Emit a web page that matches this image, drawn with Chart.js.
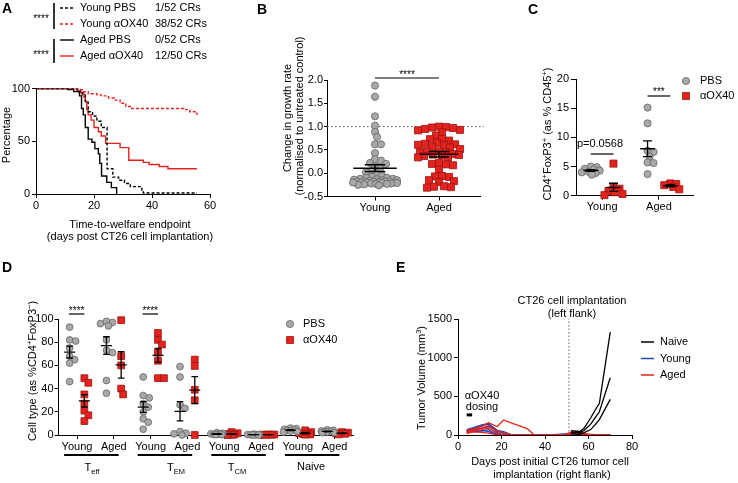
<!DOCTYPE html>
<html><head><meta charset="utf-8">
<script src="https://cdn.jsdelivr.net/npm/chart.js@4.4.1/dist/chart.umd.min.js"></script>
<style>
html,body{margin:0;padding:0;background:#fff;}
#fig{position:relative;width:738px;height:483px;overflow:hidden;background:#fff;}
#fig canvas{position:absolute;left:0;top:0;}
</style></head><body>
<div id="fig">
<canvas id="cA" width="738" height="483"></canvas>
<canvas id="cB" width="738" height="483"></canvas>
<canvas id="cC" width="738" height="483"></canvas>
<canvas id="cD" width="738" height="483"></canvas>
<canvas id="cE" width="738" height="483"></canvas>
</div>
<script>
// ---------------- Panel A data (Kaplan-Meier) ----------------
const aDaysYoungPBS  = [0,14.5,16,17,18,19.5,21,22.5,24.5,26.5,28.5,30.5,32.5,36.5,37,55.5];
const aPctYoungPBS   = [100,97,94,87,78,74,69,63,24,16,13,10,7,3,1,1];
const aDaysYoungOX40 = [0,14,16,18,21,22.5,25,27,29,31,33,51,53,55.5];
const aPctYoungOX40  = [100,99,97,95,94,93,91,89,86,83,81,80,78,75];
const aDaysAgedPBS   = [0,11,13,15,15.7,16.3,17,18,19.3,20.3,21.5,22,22.6,24.4,26,27.8];
const aPctAgedPBS    = [100,99,97,93,81,75,63,52,49,43,38,29,17,11,6,0];
const aDaysAgedOX40  = [0,14,15.5,16.5,17,17.5,18,19,20,21.5,22.5,24,29,32,37,39,42.5,45.5,55.5];
const aPctAgedOX40   = [100,98,96,92,88,80,75,70,63,59,55,48,44,32,30,28,26,24,24];
const aGroups    = ['Young PBS','Young αOX40','Aged PBS','Aged αOX40'];
const aResponses = ['1/52 CRs','38/52 CRs','0/52 CRs','12/50 CRs'];
const aXTicks = [0,20,40,60];
const aYTicks = [0,50,100];

// ---------------- Panel B data ----------------
const bCategories = ['Young','Aged'];
const bYoung = [1.88,1.64,1.22,1.02,0.89,0.78,0.62,0.62,0.43,0.30,0.27,0.22,0.20,0.15,0.10,0.05,0.02,0.00,
  -0.05,-0.08,-0.10,-0.10,-0.12,-0.12,-0.13,-0.14,-0.15,-0.15,-0.16,-0.17,-0.17,-0.18,-0.18,-0.18,-0.19,
  -0.20,-0.20,-0.20,-0.21,-0.21,-0.22,-0.22,-0.23,-0.23,-0.24,-0.25,-0.26,-0.20];
const bAged = [1.00,0.99,0.98,0.97,0.95,0.93,0.92,0.88,0.81,0.74,0.73,0.70,0.65,0.63,0.62,0.61,0.60,0.56,0.55,
  0.52,0.47,0.46,0.45,0.44,0.41,0.40,0.39,0.38,0.37,0.34,0.33,0.22,0.20,0.19,0.17,0.07,-0.06,-0.07,-0.08,
  -0.15,-0.17,-0.19,-0.28,-0.29,-0.30,-0.31];
const bYTicks = [-0.5,0,0.5,1,1.5,2];

// ---------------- Panel C data ----------------
const cCategories = ['Young','Aged'];
const cYoungPBS  = [5.0,4.9,4.6,4.5,4.3,4.1,4.0,3.9,3.6];
const cYoungOX40 = [5.5,1.5,1.2,0.8,0.6,0.3,0.1];
const cAgedPBS   = [15.1,12.4,7.7,7.5,6.7,5.7,5.6,3.7];
const cAgedOX40  = [2.1,2.0,1.8,1.5,1.1];
const cYTicks = [0,5,10,15,20];

// ---------------- Panel D data ----------------
const dCategories = ['Young','Aged','Young','Aged','Young','Aged','Young','Aged'];
const dGroupNames = ['eff','EM','CM','Naive'];
const teffYoungPBS  = [93,82,81,75,68,65,62,46];
const teffYoungOX40 = [49,45,35,27,21,17,12];
const teffAgedPBS   = [98,97,96,94,82,73,71,47,36];
const teffAgedOX40  = [99,68,60,40,35];
const temYoungPBS   = [50,34,32,27,24,20,14,11,5];
const temYoungOX40  = [88,82,78,71,64,49,49];
const temAgedPBS    = [59,50,26,23,3,1.5,1,0];
const temAgedOX40   = [65,59.5,39,30,0];
const tcmYoungPBS   = [2,1.5,1,1,0.5,0.5,0.3,0.2];
const tcmYoungOX40  = [2.5,1.5,0.8,0.5,0.3,0.2,0.1];
const tcmAgedPBS    = [0.8,0.5,0.4,0.3,0.2,0.1,0.1,0];
const tcmAgedOX40   = [0.5,0.4,0.3,0.2,0.1];
const naiveYoungPBS = [6,5.5,5,4.5,4,3.5,3,2.5];
const naiveYoungOX40= [4,2.5,1.5,1,0.8,0.5,0.3];
const naiveAgedPBS  = [4.5,4,3.5,3,3,2.5,2,2];
const naiveAgedOX40 = [2.5,2,1.5,1,0.5];
const dYTicks = [0,20,40,60,80,100];

// ---------------- Panel E data ----------------
const eTreatDays = [4,7,11,14,18,21,25,28,32,35,42,49,52,56,60,65,70];
const eYoung1 = [70,95,130,150,60,45,0,0,0,0,0,15,20,0,0,0,0];
const eYoung2 = [50,80,120,140,30,0,0,0,0,0,0,0,0,0,0,0,0];
const eYoung3 = [40,60,90,110,50,20,0,0,0,0,0,0,0,0,0,0,0];
const eYoung4 = [30,45,50,70,0,0,0,0,0,0,0,0,0,0,0,0,0];
const eYoung5 = [60,70,60,45,10,0,0,0,0,0,0,0,0,0,0,0,0];
const eAged1  = [60,80,110,160,110,195,150,120,80,0,0,0,30,20,0,0,0];
const eAged2  = [50,75,90,120,50,30,0,0,0,0,0,0,40,35,10,0,0];
const eAged3  = [35,55,70,90,20,0,0,0,0,0,0,0,0,0,0,0,0];
const eAged4  = [20,40,35,25,0,0,0,0,0,0,0,0,0,0,0,0,0];
const eNaiveDays = [52,56,58,61,63,65,70];
const eNaive1 = [55,45,90,220,320,410,1330];
const eNaive2 = [35,30,60,140,220,300,740];
const eNaive3 = [15,10,30,70,130,200,460];
const eRechallengeDay = 51;
const eDosingDays = [4,6.5];
const eDosingLevel = 260;
const eXTicks = [0,20,40,60,80];
const eYTicks = [0,500,1000,1500];

// ---------------- helpers ----------------
const FONT = '"Liberation Sans", Arial, Helvetica, sans-serif';
Chart.defaults.font.family = FONT;
Chart.defaults.font.size = 11;
Chart.defaults.color = '#000';
const RED = '#e3231d', RED_D = '#9c1410', GREY = '#a8a8a8', GREY_D = '#666666', BLUE = '#2445b5';
const CW = 738, CH = 483;

const mean = a => a.reduce((s,v)=>s+v,0)/a.length;
const sem = a => { const m = mean(a); return Math.sqrt(a.reduce((s,v)=>s+(v-m)*(v-m),0)/(a.length-1))/Math.sqrt(a.length); };

function T(c, s, x, y, o = {}) {
  c.save();
  c.font = (o.bold ? 'bold ' : '') + (o.size || 11) + 'px ' + FONT;
  c.fillStyle = o.color || '#000';
  c.textAlign = o.align || 'center';
  c.textBaseline = o.base || 'middle';
  c.translate(x, y);
  if (o.rot) c.rotate(o.rot);
  c.fillText(s, 0, 0);
  c.restore();
}
function R(c, segs, x, y, o = {}) {
  const size = o.size || 11;
  c.save(); c.translate(x, y); if (o.rot) c.rotate(o.rot);
  c.fillStyle = '#000'; c.textBaseline = 'alphabetic'; c.textAlign = 'left';
  const fs = m => m ? size * 0.68 : size;
  let w = 0;
  segs.forEach(([t, m]) => { c.font = fs(m) + 'px ' + FONT; w += c.measureText(t).width; });
  let cx = o.align === 'left' ? 0 : -w / 2;
  const base = size * 0.36;
  segs.forEach(([t, m]) => {
    c.font = fs(m) + 'px ' + FONT;
    const dy = m === 1 ? -size * 0.4 : (m === -1 ? size * 0.28 : 0);
    c.fillText(t, cx, base + dy);
    cx += c.measureText(t).width;
  });
  c.restore();
}
function L(c, x1, y1, x2, y2, w, col, dash) {
  c.save(); c.strokeStyle = col || '#000'; c.lineWidth = w || 1; c.setLineDash(dash || []);
  c.beginPath(); c.moveTo(x1, y1); c.lineTo(x2, y2); c.stroke(); c.restore();
}
function stars(c, s, x, yc) { T(c, s, x, yc + 5.5, {size: 10, base: 'alphabetic'}); }
function letter(c, s, x, yTop) { T(c, s, x, yTop + 10, {bold: true, size: 14, align: 'left', base: 'alphabetic'}); }
function marker(c, kind, x, y) {
  c.save(); c.lineWidth = 0.8;
  if (kind === 'circle') { c.fillStyle = GREY; c.strokeStyle = GREY_D; c.beginPath(); c.arc(x, y, 3.6, 0, Math.PI * 2); c.fill(); c.stroke(); }
  else { c.fillStyle = RED; c.strokeStyle = RED_D; c.beginPath(); c.rect(x - 3.5, y - 3.5, 7, 7); c.fill(); c.stroke(); }
  c.restore();
}

function axisCfg(o, horizontal) {
  return {
    type: 'linear', position: horizontal ? 'bottom' : 'left', min: o.min, max: o.max,
    afterFit(s) { if (horizontal) s.height = o.size; else s.width = o.size; },
    afterBuildTicks(s) { s.ticks = o.ticks.map(v => ({value: v})); },
    ticks: { font: {family: FONT, size: 11}, color: '#000', padding: o.pad ?? 2, autoSkip: false,
             maxRotation: 0, minRotation: 0, callback: o.fmt || (v => String(v)) },
    grid: { display: true, drawOnChartArea: false, drawTicks: true, tickLength: o.tl ?? 4, color: '#000', lineWidth: 1 },
    border: { display: true, color: '#000', width: 1 }
  };
}
function baseOptions(area, xo, yo) {
  return {
    responsive: false, animation: false, events: [],
    layout: { padding: { left: area.x0 - yo.size, top: area.y0, right: CW - area.x1, bottom: CH - area.y1 - xo.size } },
    plugins: { legend: {display: false}, tooltip: {enabled: false} },
    scales: { x: axisCfg(xo, true), y: axisCfg(yo, false) }
  };
}
function pointsDS(vals, xc, kind, r) {
  const sq = kind === 'rect';
  return { data: vals.map(v => ({x: xc, y: v})), pointStyle: kind, pointRadius: r || (sq ? 5 : 3.6),
    backgroundColor: sq ? RED : GREY, borderColor: sq ? RED_D : GREY_D, borderWidth: 0.8,
    showLine: false, clip: false, order: 1 };
}
function semDS(vals, xc, hw, cw, lw) {
  const m = mean(vals), s = sem(vals);
  return { data: [
      {x: xc - hw, y: m}, {x: xc + hw, y: m}, {x: xc, y: null},
      {x: xc, y: m - s}, {x: xc, y: m + s}, {x: xc, y: null},
      {x: xc - cw, y: m + s}, {x: xc + cw, y: m + s}, {x: xc, y: null},
      {x: xc - cw, y: m - s}, {x: xc + cw, y: m - s}],
    showLine: true, spanGaps: false, borderColor: '#000', borderWidth: lw || 1.4, pointRadius: 0, clip: false, order: 0 };
}
function swarm(chart, vals, xc, minSep, maxHalf) {
  const xs = chart.scales.x, ys = chart.scales.y;
  const cx = xs.getPixelForValue(xc);
  const pts = vals.map(v => ({v, py: ys.getPixelForValue(v), off: 0}));
  const order = pts.map((p, i) => i).sort((a, b) => pts[a].py - pts[b].py);
  const placed = [];
  order.forEach(i => {
    const p = pts[i];
    let best = 0, bestD = -1;
    for (let k = 0; k <= 2 * maxHalf; k++) {
      const off = (k % 2 ? 1 : -1) * Math.ceil(k / 2);
      let dmin = Infinity;
      for (const q of placed) { const d = Math.hypot(q.off - off, q.py - p.py); if (d < dmin) dmin = d; }
      if (dmin >= minSep) { best = off; bestD = dmin; break; }
      if (dmin > bestD) { bestD = dmin; best = off; }
    }
    p.off = best; placed.push(p);
  });
  return pts.map(p => ({x: xs.getValueForPixel(cx + p.off), y: p.v}));
}

// ---------------- Panel A ----------------
const kmSeries = [
  {t: aDaysYoungPBS,  s: aPctYoungPBS,  col: '#000', dash: [3, 2]},
  {t: aDaysYoungOX40, s: aPctYoungOX40, col: RED,    dash: [3, 2]},
  {t: aDaysAgedPBS,   s: aPctAgedPBS,   col: '#000', dash: []},
  {t: aDaysAgedOX40,  s: aPctAgedOX40,  col: RED,    dash: []}
];
const optA = baseOptions({x0: 36, y0: 88.5, x1: 210, y1: 194},
  {min: 0, max: 60, ticks: aXTicks, size: 22, tl: 4, pad: 1},
  {min: 0, max: 100, ticks: aYTicks, size: 30, tl: 4, pad: 2});
new Chart(document.getElementById('cA'), {
  type: 'line',
  data: { datasets: kmSeries.map(k => ({ data: k.t.map((t, i) => ({x: t, y: k.s[i]})), borderColor: k.col,
    borderDash: k.dash, borderWidth: 1.4, stepped: true, pointRadius: 0, fill: false })) },
  options: optA,
  plugins: [{ id: 'annA', afterDraw(ch) {
    const c = ch.ctx;
    letter(c, 'A', 2, 3.3);
    const rows = [8, 24, 40, 56];
    rows.forEach((y, i) => {
      L(c, 60, y, 74, y, 1.4, kmSeries[i].col, kmSeries[i].dash);
      T(c, aGroups[i], 80, y, {align: 'left'});
      T(c, aResponses[i], 155, y, {align: 'left'});
    });
    L(c, 54, 3, 54, 29, 1.6); L(c, 54, 39, 54, 63, 1.6);
    stars(c, '****', 41, 16); stars(c, '****', 41, 52);
    T(c, 'Percentage', 7, 135, {rot: -Math.PI / 2});
    T(c, 'Time-to-welfare endpoint', 130, 225);
    T(c, '(days post CT26 cell implantation)', 130, 237);
  }}]
});

// ---------------- Panel B ----------------
const optB = baseOptions({x0: 327, y0: 80, x1: 480.6, y1: 196.5},
  {min: 0.25, max: 2.65, ticks: [1, 2], size: 22, tl: 4, pad: 1, fmt: v => bCategories[Math.round(v) - 1]},
  {min: -0.5, max: 2, ticks: bYTicks, size: 30, tl: 3, pad: 1, fmt: v => v.toFixed(1)});
const chartB = new Chart(document.getElementById('cB'), {
  type: 'scatter',
  data: { datasets: [
    pointsDS(bYoung, 1, 'circle'),
    pointsDS(bAged, 2, 'rect'),
    semDS(bYoung, 1, 0.34, 0.16, 1.5),
    semDS(bAged, 2, 0.30, 0.16, 1.5),
    { data: [{x: 0.25, y: 1}, {x: 2.7, y: 1}], showLine: true, borderColor: '#555', borderWidth: 1,
      borderDash: [1.5, 2.5], pointRadius: 0, clip: false, order: 3 }
  ]},
  options: optB,
  plugins: [{ id: 'annB', afterDraw(ch) {
    const c = ch.ctx, xs = ch.scales.x;
    letter(c, 'B', 257, 4);
    T(c, 'Change in growth rate', 288, 118, {rot: -Math.PI / 2});
    T(c, '(normalised to untreated control)', 300, 116, {rot: -Math.PI / 2});
    const y = ch.chartArea.top - 2, x1 = xs.getPixelForValue(1), x2 = xs.getPixelForValue(2);
    L(c, x1, y, x2, y, 1.2);
    stars(c, '****', (x1 + x2) / 2, y - 6);
  }}]
});
chartB.data.datasets[0].data = swarm(chartB, bYoung, 1, 5.5, 22);
chartB.data.datasets[1].data = swarm(chartB, bAged, 2, 6.5, 21);
chartB.update('none');

// ---------------- Panel C ----------------
const optC = baseOptions({x0: 576, y0: 79, x1: 693, y1: 195.7},
  {min: 0.54, max: 2.6, ticks: [1, 2], size: 22, tl: 4, pad: 1, fmt: v => cCategories[Math.round(v) - 1]},
  {min: 0, max: 20, ticks: cYTicks, size: 30, tl: 5, pad: 2});
const cSets = [[cYoungPBS, 0.8, 'circle'], [cYoungOX40, 1.2, 'rect'], [cAgedPBS, 1.8, 'circle'], [cAgedOX40, 2.2, 'rect']];
const chartC = new Chart(document.getElementById('cC'), {
  type: 'scatter',
  data: { datasets: [
    ...cSets.map(s => pointsDS(s[0], s[1], s[2])),
    ...cSets.map(s => semDS(s[0], s[1], 0.13, 0.08, 1.3))
  ]},
  options: optC,
  plugins: [{ id: 'annC', afterDraw(ch) {
    const c = ch.ctx, xs = ch.scales.x;
    letter(c, 'C', 528, 4);
    R(c, [['CD4', 0], ['+', 1], ['FoxP3', 0], ['+', 1], [' (as % CD45', 0], ['+', 1], [')', 0]], 547, 134, {rot: -Math.PI / 2});
    marker(c, 'circle', 686, 81); T(c, 'PBS', 700, 81, {align: 'left'});
    marker(c, 'rect', 686, 96); T(c, 'αOX40', 700, 96, {align: 'left'});
    L(c, xs.getPixelForValue(0.8), 154, xs.getPixelForValue(1.2), 154, 1.2);
    T(c, 'p=0.0568', 600, 144);
    L(c, xs.getPixelForValue(1.8), 96, xs.getPixelForValue(2.2), 96, 1.2);
    stars(c, '***', xs.getPixelForValue(2), 89);
  }}]
});
cSets.forEach((s, i) => { chartC.data.datasets[i].data = swarm(chartC, s[0], s[1], 6, 9); });
chartC.update('none');

// ---------------- Panel D ----------------
const dPBS  = [teffYoungPBS, teffAgedPBS, temYoungPBS, temAgedPBS, tcmYoungPBS, tcmAgedPBS, naiveYoungPBS, naiveAgedPBS];
const dOX40 = [teffYoungOX40, teffAgedOX40, temYoungOX40, temAgedOX40, tcmYoungOX40, tcmAgedOX40, naiveYoungOX40, naiveAgedOX40];
const dSets = [];
dCategories.forEach((cat, i) => {
  dSets.push([dPBS[i], i + 1 - 0.2, 'circle']);
  dSets.push([dOX40[i], i + 1 + 0.2, 'rect']);
});
const optD = baseOptions({x0: 58.6, y0: 319, x1: 353, y1: 435},
  {min: 0.5, max: 8.5, ticks: [1, 2, 3, 4, 5, 6, 7, 8], size: 22, tl: 4, pad: 1, fmt: v => dCategories[Math.round(v) - 1]},
  {min: 0, max: 100, ticks: dYTicks, size: 30, tl: 4, pad: 1});
const chartD = new Chart(document.getElementById('cD'), {
  type: 'scatter',
  data: { datasets: [
    ...dSets.map(s => pointsDS(s[0], s[1], s[2], s[2] === 'rect' ? 4.8 : 3.4)),
    ...dSets.map(s => semDS(s[0], s[1], 0.15, 0.09, 1.3))
  ]},
  options: optD,
  plugins: [{ id: 'annD', afterDraw(ch) {
    const c = ch.ctx, xs = ch.scales.x;
    letter(c, 'D', 2, 262);
    R(c, [['Cell type (as %CD4', 0], ['+', 1], ['FoxP3', 0], ['−', 1], [')', 0]], 32, 371, {rot: -Math.PI / 2});
    marker(c, 'circle', 290, 324); T(c, 'PBS', 303, 324, {align: 'left'});
    marker(c, 'rect', 290, 340); T(c, 'αOX40', 303, 340, {align: 'left'});
    [1, 3].forEach(k => {
      const a = xs.getPixelForValue(k - 0.22), b = xs.getPixelForValue(k + 0.2);
      L(c, a, 314, b, 314, 1.2);
      stars(c, '****', (a + b) / 2, 308);
    });
    const labX = [92, 176, 237, 311];
    [1, 3, 5, 7].forEach((k, g) => {
      L(c, xs.getPixelForValue(k - 0.35), 455, xs.getPixelForValue(k + 1 + 0.13), 455, 2);
      if (g < 3) R(c, [['T', 0], [dGroupNames[g], -1]], labX[g], 467);
      else T(c, dGroupNames[g], labX[g], 467);
    });
  }}]
});
dSets.forEach((s, i) => { chartD.data.datasets[i].data = swarm(chartD, s[0], s[1], 6, 7); });
chartD.update('none');

// ---------------- Panel E ----------------
const lineDS = (days, vals, col, order) => ({
  data: days.map((d, i) => ({x: d, y: vals[i]})), borderColor: col, borderWidth: 1.3,
  pointRadius: 0, fill: false, tension: 0, order });
const eLegend = [['Naive', '#000'], ['Young', BLUE], ['Aged', RED]];
const optE = baseOptions({x0: 458, y0: 319, x1: 632, y1: 435},
  {min: 0, max: 80, ticks: eXTicks, size: 22, tl: 4, pad: 1},
  {min: 0, max: 1500, ticks: eYTicks, size: 30, tl: 4, pad: 2});
new Chart(document.getElementById('cE'), {
  type: 'line',
  data: { datasets: [
    ...[eNaive1, eNaive2, eNaive3].map(v => lineDS(eNaiveDays, v, '#000', 0)),
    ...[eAged1, eAged2, eAged3, eAged4].map(v => lineDS(eTreatDays, v, RED, 1)),
    ...[eYoung1, eYoung2, eYoung3, eYoung4, eYoung5].map(v => lineDS(eTreatDays, v, BLUE, 2)),
    { data: [{x: eRechallengeDay, y: 0}, {x: eRechallengeDay, y: 1500}], borderColor: '#666', borderWidth: 1,
      borderDash: [1.5, 2], pointRadius: 0, order: 3 },
    { data: eDosingDays.map(d => ({x: d, y: eDosingLevel})), borderColor: '#000', borderWidth: 3, pointRadius: 0, order: 0 }
  ]},
  options: optE,
  plugins: [{ id: 'annE', afterDraw(ch) {
    const c = ch.ctx;
    letter(c, 'E', 396, 262);
    R(c, [['Tumor Volume (mm', 0], ['3', 1], [')', 0]], 421, 378, {rot: -Math.PI / 2});
    T(c, 'Days post initial CT26 tumor cell', 550, 462);
    T(c, 'implantation (right flank)', 552, 475);
    T(c, 'CT26 cell implantation', 572, 301);
    T(c, '(left flank)', 572, 314);
    T(c, 'αOX40', 482, 396);
    T(c, 'dosing', 482, 407);
    eLegend.forEach(([name, col], i) => {
      const y = 342 + i * 16.5;
      L(c, 641, y, 654, y, 1.5, col);
      T(c, name, 660, y, {align: 'left'});
    });
  }}]
});
</script></body></html>
